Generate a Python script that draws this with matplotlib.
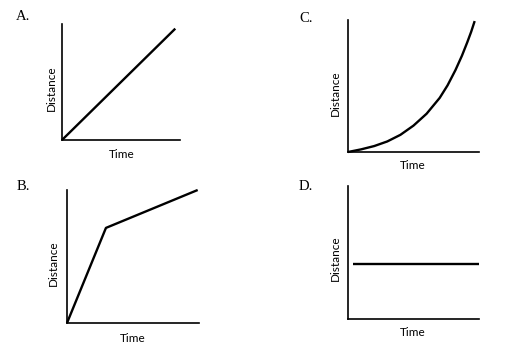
import matplotlib
matplotlib.use("Agg")
import matplotlib.pyplot as plt

# data (axes run 0..10 in both directions)
a_time = [0, 9.6]
a_dist = [0, 9.6]

b_time = [0, 2.95, 9.9]
b_dist = [0, 7.15, 10.0]

c_time = [0, 1.0, 2.0, 3.0, 4.0, 5.0, 6.0, 7.0, 7.6, 8.2, 8.7, 9.1, 9.4, 9.67]
c_dist = [0, 0.2, 0.45, 0.8, 1.3, 2.0, 2.9, 4.1, 5.05, 6.2, 7.3, 8.3, 9.1, 9.92]

d_time = [0.38, 10.0]
d_dist = [4.15, 4.15]

panels = ['A.', 'B.', 'C.', 'D.']

W, H = 526, 351
fig = plt.figure(figsize=(W / 100, H / 100), dpi=100)

SANS = ['Lato', 'DejaVu Sans']
SERIF = ['Liberation Serif', 'DejaVu Serif']


def px_axes(x0, y0, x1, y1):
    # axes box given in pixel coords, origin at top-left
    ax = fig.add_axes([x0 / W, 1 - y1 / H, (x1 - x0) / W, (y1 - y0) / H])
    ax.set_xlim(0, 10)
    ax.set_ylim(0, 10)
    for s in ['top', 'right']:
        ax.spines[s].set_visible(False)
    for s in ['left', 'bottom']:
        ax.spines[s].set_linewidth(1.2)
        ax.spines[s].set_color('black')
    ax.set_xticks([])
    ax.set_yticks([])
    ax.patch.set_alpha(0)
    return ax


def px_text(x, y, s, **kw):
    fig.text(x / W, 1 - y / H, s, ha='center', va='center', **kw)


# panel boxes, label spots
boxes = {
    'A.': (62, 24, 180, 140),
    'B.': (67, 190, 199, 323),
    'C.': (348, 20, 479, 152),
    'D.': (348, 186, 479, 319),
}
series = {
    'A.': (a_time, a_dist),
    'B.': (b_time, b_dist),
    'C.': (c_time, c_dist),
    'D.': (d_time, d_dist),
}
letter_pos = {'A.': (23, 17), 'B.': (23, 187), 'C.': (306, 18), 'D.': (306, 187)}
time_pos = {'A.': (122, 155), 'B.': (133, 338), 'C.': (413, 166), 'D.': (413, 333)}
dist_pos = {'A.': (51, 88), 'B.': (53, 263), 'C.': (335, 93), 'D.': (335, 258)}

for p in panels:
    ax = px_axes(*boxes[p])
    t, d = series[p]
    ax.plot(t, d, color='black', lw=1.7, clip_on=False,
            solid_capstyle='butt', solid_joinstyle='round')
    px_text(*letter_pos[p], p, family=SERIF, fontsize=10.5)
    px_text(*time_pos[p], 'Time', family=SANS, fontsize=8.5)
    px_text(*dist_pos[p], 'Distance', family=SANS, fontsize=8.5, rotation=90)

fig.savefig('out.png', dpi=100)
